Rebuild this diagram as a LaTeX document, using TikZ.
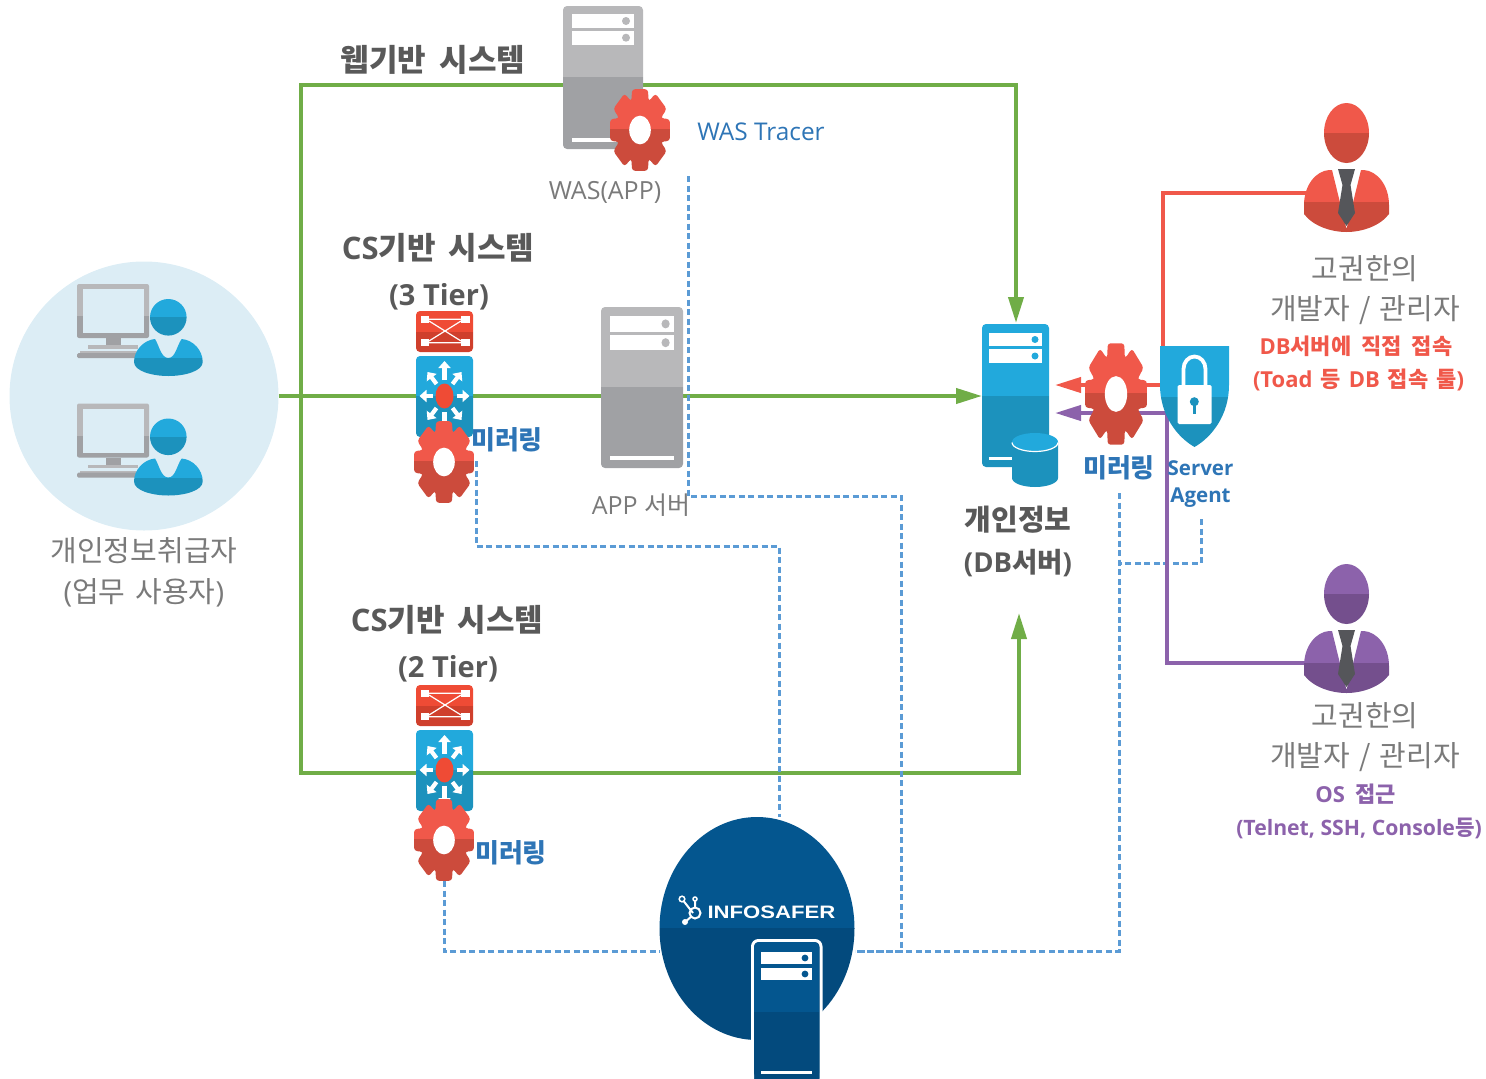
\documentclass[tikz,border=0pt]{standalone}
\usepackage{fontspec}
\setmainfont{Open Sans}
\newfontfamily\krf{Noto Sans CJK KR}
\newcommand\K[1]{{\krf #1}}
\newcommand\G[1]{\hspace{#1pt}}
\usetikzlibrary{arrows.meta}
\definecolor{txtdark}{HTML}{595959}
\definecolor{txtlight}{HTML}{7A7A7A}
\definecolor{txtblue}{HTML}{2E75B6}
\definecolor{dash}{HTML}{5B9BD5}
\definecolor{lineg}{HTML}{70AD47}
\definecolor{redT}{HTML}{F0584A}
\definecolor{redB}{HTML}{CC4B3C}
\definecolor{purT}{HTML}{8C62AB}
\definecolor{purB}{HTML}{744F8D}
\definecolor{bluT}{HTML}{22A9DC}
\definecolor{bluB}{HTML}{1C92BD}
\definecolor{gryT}{HTML}{B8B8BA}
\definecolor{gryB}{HTML}{A0A1A4}
\definecolor{navT}{HTML}{04568F}
\definecolor{navB}{HTML}{034A7D}
\definecolor{swT}{HTML}{EF4B35}
\definecolor{swB}{HTML}{CF3F2C}
\definecolor{userbg}{HTML}{DCEDF5}
\definecolor{tiegray}{HTML}{55565A}
\tikzset{
 greenline/.style={draw=lineg,line width=4pt,-{Triangle[length=26pt,width=15pt]},line join=miter},
 redline/.style={draw=redT,line width=4pt},
 purline/.style={draw=purT,line width=4pt},
 tapline/.style={draw=dash,line width=3pt,dash pattern=on 6pt off 3.5pt},
 head/.style={font=\fontsize{29}{34}\selectfont\bfseries,text=txtdark,inner sep=0pt,yshift=-1.5pt},
 bighead/.style={font=\fontsize{31}{36}\selectfont\bfseries,text=txtdark,inner sep=0pt,yshift=-1pt},
 plain/.style={font=\fontsize{25}{30}\selectfont,text=txtlight,inner sep=0pt,yshift=-1pt},
 tall/.style={font=\fontsize{29}{34}\selectfont,text=txtlight,inner sep=0pt,yshift=-1.5pt},
 mirror/.style={font=\fontsize{26}{30}\selectfont\bfseries,text=txtblue,inner sep=0pt,yshift=-.5pt},
 agent/.style={font=\fontsize{20.5}{26}\selectfont\bfseries,text=txtblue,inner sep=0pt,yshift=-1pt},
 rednote/.style={font=\fontsize{22}{26}\selectfont\bfseries,text=redT,inner sep=0pt,yshift=-1pt},
 purnote/.style={font=\fontsize{21.2}{26}\selectfont\bfseries,text=purT,inner sep=0pt,yshift=-1pt},
}
% two-tone fill: path, split y, top colour, bottom colour
\newcommand\twotone[4]{\begin{scope}\clip #1;\fill[#3] (-300,-300) rectangle (1800,#2);\fill[#4] (-300,#2) rectangle (1800,1400);\end{scope}}
% gear: name,x,y,half-width,half-height
\newcommand\gearicon[5]{\coordinate (#1) at (#2,#3);
 \begin{scope}[shift={(#2,#3)},x=#4pt,y=-#5pt]
 \begin{scope}
 \clip[rounded corners=3pt] (-22:.76) foreach \a in {0,45,...,270} { -- (\a-15:1.03) -- (\a+15:1.03) -- (\a+22:.76) -- (\a+23:.76) } -- (300:1.03) -- (330:1.03) -- (337:.76) -- cycle;
 \fill[redT] (-1.1,-1.1) rectangle (1.1,-.02);
 \fill[redB] (-1.1,-.02) rectangle (1.1,1.1);
 \end{scope}
 \fill[white] (0,0) ellipse [x radius=.36,y radius=.35];
 \end{scope}}
% server in 80x143 local units: x,y,sx,sy,top,bottom
\newcommand\servericon[6]{\begin{scope}[shift={(#1,#2)},x=#3pt,y=-#4pt]
 \twotone{[rounded corners=4pt] (0,0) rectangle (80,143)}{71}{#5}{#6}
 \fill[white] (8.5,8) rectangle (71,22);
 \fill[white] (8.5,25) rectangle (71,38.5);
 \fill[#5] (63,15) circle [radius=4];
 \fill[#5] (63,31.7) circle [radius=4];
 \fill[white] (8.5,132) rectangle (71,135.5);
 \end{scope}}
% switch + router: top y
\newcommand\netstack[2]{\begin{scope}[shift={(416,#1)}]
 \twotone{[rounded corners=4pt] (0,0) rectangle (57,41)}{20.5}{swT}{swB}
 \foreach \p/\q in {4.7/5,45/5,4.7/28.3,45/28.3} \fill[white] (\p,\q) rectangle ++(8.6,6.7);
 \draw[white,line width=1.2pt] (13,8.3) -- (45,8.3) (13,31.7) -- (45,31.7) (13,10) -- (45,30) (13,30) -- (45,10);
 \begin{scope}[shift={(0,#2)}]
 \twotone{[rounded corners=4pt] (0,0) rectangle (57,81)}{39.5}{bluT}{bluB}
 \begin{scope}[shift={(28.5,40)}]
 \foreach \dx/\dy/\ex/\ey in {0/-16/0/-35, 0/16/0/35, -12/0/-25/0, 12/0/25/0, -8/-12/-17/-24, 8/-12/17/-24, -8/12/-17/24, 8/12/17/24}
   \draw[white,line width=4.2pt,-{Triangle[length=7pt,width=12pt]}] (\dx,\dy) -- (\ex,\ey);
 \fill[swT] (0,0) ellipse [x radius=9,y radius=12.5];
 \end{scope}
 \end{scope}
 \end{scope}}
% person: shift y, top, bottom
\newcommand\personicon[3]{\begin{scope}[shift={(0,#1)}]
 \twotone{(1346.5,133) ellipse [x radius=22.5,y radius=30]}{133}{#2}{#3}
 \twotone{(1304,205) .. controls (1304,185) and (1316,171) .. (1329,170) -- (1332,170) -- (1346.5,229) -- (1361,170) -- (1364,170) .. controls (1377,171) and (1389,185) .. (1389,205) -- (1389,214) .. controls (1380,226) and (1362,232) .. (1346.5,232) .. controls (1331,232) and (1313,226) .. (1304,214) -- cycle}{201.5}{#2}{#3}
 \fill[tiegray] (1338,169) -- (1355,169) -- (1350.5,185) -- (1355,213) -- (1346.5,226) -- (1338,213) -- (1342.5,185) -- cycle;
 \end{scope}}
% user + monitor: shift y
\newcommand\usericon[1]{\begin{scope}[shift={(0,#1)}]
 \twotone{[rounded corners=2pt] (77,284) rectangle (149,338)}{316}{gryT}{gryB}
 \fill[userbg] (82.7,289) rectangle (144,333);
 \fill[gryB] (106,338) rectangle (121,345);
 \fill[gryT] (88,345) rectangle (138,348.5);
 \fill[gryT] (80,351) rectangle (140,353);
 \fill[gryB,rounded corners=1.5pt] (77,353) rectangle (142,358);
 \twotone{(168.3,317.3) circle [radius=18.3]}{317}{bluT}{bluB}
 \twotone{(134,362) .. controls (134,350) and (144,340) .. (155,339) .. controls (159,345) and (161,358) .. (168.3,358) .. controls (175.6,358) and (177,345) .. (181.7,339) .. controls (193,340) and (202.7,350) .. (202.7,362) .. controls (202.7,371) and (185,376) .. (168.3,376) .. controls (152,376) and (134,371) .. (134,362) -- cycle}{358}{bluT}{bluB}
 \end{scope}}
\begin{document}
\begin{tikzpicture}[x=1pt,y=-1pt]
\useasboundingbox (0,0) rectangle (1486,1079);
\node[circle,fill=userbg,minimum size=269pt,inner sep=0pt] (users) at (144,396) {};
% named connector points
\coordinate (netL) at (300.5,396);
\coordinate (tl) at (300.5,84.5);
\coordinate (tr) at (1016,84.5);
\coordinate (bl) at (300.5,773);
\coordinate (br) at (1019,773);
\coordinate (dbW) at (982,396);
\coordinate (dbN) at (1016,323);
\coordinate (dbS) at (1019,613);
\coordinate (wasTap) at (688,176);
\coordinate (wasT1) at (688,496);
\coordinate (wasT2) at (901,496);
\coordinate (safeE) at (855,951);
\coordinate (safeW) at (660,951);
\coordinate (safeN) at (779,817);
\coordinate (cs3Tap) at (476,461);
\coordinate (cs3A) at (476,546);
\coordinate (cs3B) at (779,546);
\coordinate (cs2Tap) at (444,881);
\coordinate (mirTap) at (1119,493);
\coordinate (agTap) at (1201,519);
\coordinate (agA) at (1201,563);
\coordinate (agB) at (1119,563);
\coordinate (redP) at (1306,193);
\coordinate (redA) at (1163,193);
\coordinate (redB1) at (1163,385);
\coordinate (redTip) at (1055,385);
\coordinate (purP) at (1306,663);
\coordinate (purA) at (1166.5,663);
\coordinate (purB1) at (1166.5,413);
\coordinate (purTip) at (1055,413);
% connectors
\draw[greenline] (users.east) -- (dbW);
\draw[greenline] (netL) -- (tl) -- (tr) -- (dbN);
\draw[greenline] (netL) -- (bl) -- (br) -- (dbS);
\draw[tapline] (wasTap) -- (wasT1) -- (wasT2) -- (wasT2 |- safeE) -- (safeE);
\draw[tapline] (cs3Tap) -- (cs3A) -- (cs3B) -- (safeN);
\draw[tapline] (cs2Tap) -- (cs2Tap |- safeW) -- (safeW);
\draw[tapline] (mirTap) -- (mirTap |- safeE) -- (safeE);
\draw[tapline] (agTap) -- (agA) -- (agB);
\draw[redline] (redP) -- (redA) -- (redB1);
\draw[redline,-{Triangle[length=26pt,width=15pt]}] (redB1) -- (redTip);
\draw[purline] (purP) -- (purA) -- (purB1);
\draw[purline,-{Triangle[length=26pt,width=15pt]}] (purB1) -- (purTip);
% users
\usericon{0}
\usericon{119.5}
% WAS
\servericon{563}{6}{1}{1}{gryT}{gryB}
\gearicon{gearWas}{640}{130}{30}{41}
% APP
\servericon{601}{307}{1.025}{1.126}{gryT}{gryB}
% network stacks
\netstack{311}{45}
\gearicon{gear3}{444}{462}{30}{41}
\netstack{685}{45}
\gearicon{gear2}{444}{840}{30}{41}
% DB server
\begin{scope}
\twotone{[rounded corners=4pt] (982,324) rectangle (1049,467)}{396}{bluT}{bluB}
\fill[white] (989,333) rectangle (1042,346);
\fill[white] (989,349) rectangle (1042,363);
\fill[bluT] (1035,339.5) circle [radius=3.5];
\fill[bluT] (1035,356) circle [radius=3.5];
\fill[white] (989,457) rectangle (1014,460);
\end{scope}
\path[fill=bluB] (1012,442) -- (1012,478) arc [start angle=180,end angle=0,x radius=23,y radius=9] -- (1058,442) -- cycle;
\fill[bluT] (1035,442) ellipse [x radius=23,y radius=9];
\draw[white,line width=1.2pt] (1012,442.5) arc [start angle=180,end angle=0,x radius=23,y radius=9];
% mirroring gear and shield
\gearicon{gearDb}{1116}{394}{31}{51}
\twotone{(1160,346) -- (1229,346) -- (1229,385) .. controls (1229,415) and (1212,437) .. (1194.5,447) .. controls (1177,437) and (1160,415) .. (1160,385) -- cycle}{397}{bluT}{bluB}
\draw[white,line width=3.8pt] (1183.5,386) -- (1183.5,369) arc [start angle=180,end angle=360,x radius=11,y radius=12.5] -- (1205.5,386);
\fill[white,rounded corners=1.5pt] (1177.7,385) rectangle (1211.7,424);
\fill[bluB] (1194.3,401.7) circle [radius=4.5];
\fill[bluB] (1192.8,402) rectangle (1195.8,414);
% persons
\personicon{0}{redT}{redB}
\personicon{461}{purT}{purB}
% infosafer
\twotone{(757,928.5) ellipse [x radius=97.5,y radius=111.5]}{928}{navT}{navB}
\begin{scope}
\clip (700,930) rectangle (830,1079);
\filldraw[draw=white,line width=3pt,fill=navB,rounded corners=6pt] (752.5,940.5) rectangle (821,1085);
\end{scope}
\twotone{[rounded corners=5pt] (754,942) -- (819,942) -- (819,1078) -- (754,1078) -- cycle}{1012}{navT}{navB}
\fill[white] (760.7,952) rectangle (812,964);
\fill[white] (760.7,968) rectangle (812,980);
\fill[navT] (805,958) circle [radius=3.4];
\fill[navT] (805,974) circle [radius=3.4];
\fill[white] (760.7,1071) rectangle (812,1073.5);
\draw[white,line width=2pt] (682,899) -- (693,913) (695,899) -- (695,908) (685,922) -- (692,916);
\draw[white,line width=1.5pt,fill=navT] (682,899) circle [radius=2.8] (695,899) circle [radius=2];
\fill[white] (685,922) circle [radius=3];
\draw[white,line width=2pt] (695,913) circle [radius=5.5];
\node[inner sep=0pt,text=white,font={\fontsize{18}{20}\fontspec{Liberation Sans}\bfseries}] (logo) at (771.5,912.5) {\scalebox{1.23}[1]{INFOSAFER}};
% labels
\node[bighead] (t1) at (433,59) {\K{웹기반\G{13}시스템}};
\node[bighead] (t2) at (438,247) {CS\K{기반\G{13}시스템}};
\node[head] (t3) at (439,295) {(3 Tier)};
\node[bighead] (t4) at (447,619) {CS\K{기반\G{13}시스템}};
\node[head] (t5) at (448,667) {(2 Tier)};
\node[plain,yshift=-1.5pt] (t6) at (605,190) {WAS(APP)};
\node[plain,text=txtblue,font=\fontsize{24.4}{30}\selectfont] (t7) at (761,131) {WAS Tracer};
\node[plain] (t8) at (641,504) {APP \K{서버}};
\node[tall] (t9) at (144,549) {\K{개인정보취급자}};
\node[tall] (t10) at (144,591) {(\K{업무\G{10}사용자})};
\node[head] (t11) at (1018,518) {\K{개인정보}};
\node[head,font=\fontsize{27.5}{34}\selectfont\bfseries] (t12) at (1018,562) {(DB\K{서버})};
\node[mirror] (m1) at (507,439) {\K{미러링}};
\node[mirror] (m2) at (511,852) {\K{미러링}};
\node[mirror] (m3) at (1119,467) {\K{미러링}};
\node[agent] (a1) at (1200.5,467) {Server};
\node[agent] (a2) at (1200.5,497) {Agent};
\node[tall] (r1) at (1365,267) {\K{고권한의}};
\node[tall] (r2) at (1365,309) {\K{개발자\G{9}/\G{9}관리자}};
\node[rednote] (r3) at (1356,345) {DB\K{서버에\G{10}직접\G{10}접속}};
\node[rednote] (r4) at (1358.5,379) {(Toad\G{8}\K{등}\G{8}DB\G{8}\K{접속\G{8}툴})};
\node[tall] (p1) at (1365,714) {\K{고권한의}};
\node[tall] (p2) at (1365,756) {\K{개발자\G{9}/\G{9}관리자}};
\node[purnote,font=\fontsize{22}{26}\selectfont\bfseries] (p3) at (1355.5,793) {OS\G{10}\K{접근}};
\node[purnote] (p4) at (1359,827) {(Telnet, SSH, Console\K{등})};
\end{tikzpicture}
\end{document}
